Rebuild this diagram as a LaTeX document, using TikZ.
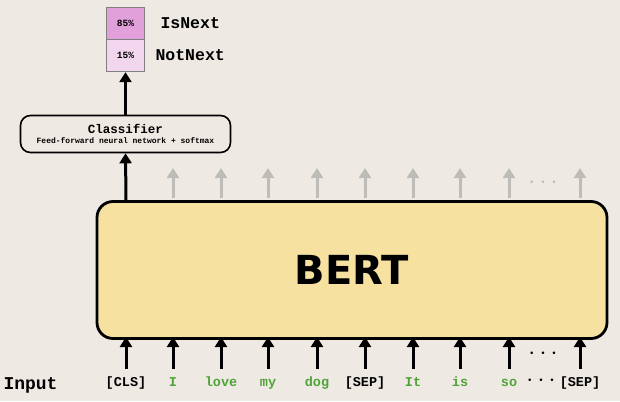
\documentclass[tikz,border=0pt]{standalone}
\usepackage{fontspec}
\setmainfont{Liberation Mono}
\newfontfamily\bertf{DejaVu Sans Bold}
\usetikzlibrary{arrows.meta}
\definecolor{bg}{HTML}{EEEAE3}
\definecolor{bert}{HTML}{F6E1A0}
\definecolor{pA}{HTML}{E2A0DA}
\definecolor{pB}{HTML}{F2D6EE}
\definecolor{gr}{HTML}{52A23A}
\definecolor{ga}{HTML}{BDBCB8}
\begin{document}
\begin{tikzpicture}[x=1pt,y=-1pt,
  arr/.style={line width=3pt,-{Triangle[length=10pt,width=12pt]}},
  garr/.style={arr,ga},
  tok/.style={font=\bfseries\fontsize{13.5}{13.5}\selectfont,anchor=base},
  lab/.style={font=\bfseries\fontsize{16.5}{16.5}\selectfont},
  dots/.style={font=\fontsize{28}{28}\selectfont,inner sep=0}]
\fill[bg] (0,0) rectangle (620,401);
\useasboundingbox (0,0) rectangle (620,401);
\node[draw,line width=2.8pt,rounded corners=16pt,fill=bert,minimum width=510,minimum height=137,font=\bertf\fontsize{40}{40}\selectfont] (bert) at (352,270) {BERT};
\node[draw,line width=1.6pt,rounded corners=10pt,fill=bg,minimum width=210,minimum height=37,align=center,inner sep=1pt] (cls) at (125.5,134)
 {{\bfseries\fontsize{12.5}{13}\selectfont Classifier}\\[-2pt]{\bfseries\fontsize{8}{8}\selectfont Feed-forward neural network + softmax}};
\node[draw=gray,line width=0.8pt,fill=pA,minimum width=38,minimum height=32,inner sep=0,font=\bfseries\fontsize{9.5}{9.5}\selectfont] (pa) at (125.5,23) {85\%};
\node[draw=gray,line width=0.8pt,fill=pB,minimum width=38,minimum height=32,inner sep=0,font=\bfseries\fontsize{9.5}{9.5}\selectfont,anchor=north] (pb) at (pa.south) {15\%};
\node[lab,anchor=west] (isn) at (157,23) {IsNext};
\node[lab,anchor=west] (notn) at (152,55) {NotNext};
\draw[arr] (cls.north) -- (pb.south);
\coordinate (c1) at (126,200);
\draw[arr] (c1) -- (cls.south);
\node[lab,font=\bfseries\fontsize{18}{18}\selectfont,anchor=base west] (inp) at (0,389) {Input};
\foreach \x/\t/\c [count=\i] in {126/[CLS]/black,173/I/gr,221/love/gr,268/my/gr,317/dog/gr,365/[SEP]/black,413/It/gr,460/is/gr,509/so/gr,580/[SEP]/black}{
  \node[tok,text=\c] (t\i) at (\x,386) {\t};
  \coordinate (b\i) at (\x,369);
  \coordinate (e\i) at (\x,337);
  \draw[arr] (b\i) -- (e\i);
}
\foreach \x [count=\i] in {173,221,268,317,365,413,460,509,580}{
  \coordinate (g\i) at (\x,198);
  \coordinate (h\i) at (\x,168);
  \draw[garr] (g\i) -- (h\i);
}
\node[dots,text=ga] (d1) at (543,183) {$\cdots$};
\node[dots] (d2) at (543,354) {$\cdots$};
\node[dots] (d3) at (541,381) {$\cdots$};
\end{tikzpicture}
\end{document}
